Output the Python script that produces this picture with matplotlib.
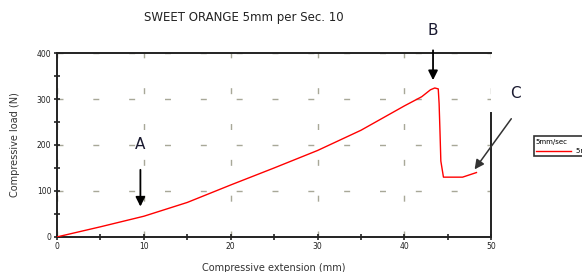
import matplotlib
matplotlib.use("Agg")
import matplotlib.pyplot as plt
from matplotlib.ticker import MultipleLocator

# compressive extension (mm) vs compressive load (N)
extension = [0, 5, 10, 15, 20, 25, 30, 35, 40, 42, 43.0, 43.5, 43.9, 44.0, 44.1, 44.2, 44.5, 46.7, 47.5, 48.3]
load = [0, 22, 45, 75, 113, 150, 188, 232, 285, 305, 320, 324, 322, 290, 230, 165, 130, 130, 135, 140]

x_ticks = [0, 10, 20, 30, 40, 50]
y_ticks = [0, 100, 200, 300, 400]

fig = plt.figure(figsize=(5.82, 2.72), dpi=100)
ax = fig.add_axes([0.098, 0.129, 0.746, 0.676])

ax.plot(extension, load, color="red", linewidth=1.0, label="5mm/sec. 10", zorder=5)

ax.set_xlim(0, 50)
ax.set_ylim(0, 400)
ax.set_xticks(x_ticks)
ax.set_yticks(y_ticks)
ax.xaxis.set_minor_locator(MultipleLocator(5))
ax.yaxis.set_minor_locator(MultipleLocator(50))
ax.tick_params(which="both", direction="inout", labelsize=5.5, colors="#222222",
               width=1.2, length=4, pad=2)

# dashed grey grid, short dashes
ax.grid(True, color="#a8a898", linewidth=1, linestyle=(0, (4.3, 21.5)))

for s in ax.spines.values():
    s.set_linewidth(1.4)
    s.set_color("#222222")
ax.spines["right"].set_bounds(0, 270)

ax.set_title("SWEET ORANGE 5mm per Sec. 10", fontsize=8.5, color="#222222",
             x=0.43, pad=23)
ax.set_xlabel("Compressive extension (mm)", fontsize=7, color="#333333", labelpad=8)
ax.set_ylabel("Compressive load (N)", fontsize=7, color="#333333", labelpad=12)

arrow = dict(arrowstyle="-|>", color="black", linewidth=1.3, mutation_scale=14)
ax.annotate("", xy=(9.6, 60), xytext=(9.6, 152), arrowprops=arrow)
ax.text(9.6, 200, "A", fontsize=11, color="#1a1a30", ha="center", va="center")
ax.annotate("", xy=(43.3, 335), xytext=(43.3, 412), arrowprops=arrow,
            annotation_clip=False)
ax.text(43.3, 448, "B", fontsize=11, color="#1a1a30", ha="center", va="center",
        clip_on=False)
arrow_c = dict(arrowstyle="-|>", color="#333333", linewidth=1.1, mutation_scale=14)
ax.annotate("", xy=(47.9, 142), xytext=(52.5, 262), arrowprops=arrow_c,
            annotation_clip=False)
ax.text(52.8, 313, "C", fontsize=11, color="#1a1a30", ha="center", va="center",
        clip_on=False)

leg = ax.legend(loc="upper left", bbox_to_anchor=(1.09, 0.565), title="5mm/sec",
                fontsize=5, title_fontsize=5, frameon=True, fancybox=False,
                borderpad=0.3, handlelength=5, edgecolor="black")
leg.get_frame().set_linewidth(1.2)
leg._legend_box.align = "left"

fig.savefig("out.png", dpi=100)
